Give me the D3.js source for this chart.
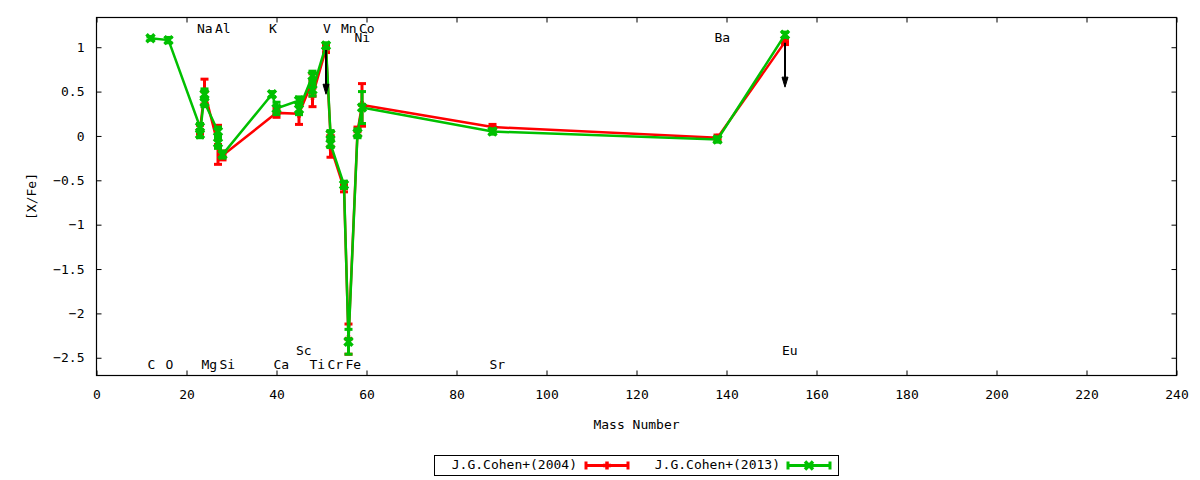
<!DOCTYPE html>
<html>
<head>
<meta charset="utf-8">
<script src="https://cdn.jsdelivr.net/npm/d3@7"></script>
<style>
  body { margin: 0; background: #fff; }
  text { font-family: "DejaVu Sans Mono", monospace; font-size: 13px; fill: #000; }
</style>
</head>
<body>
<div id="chart"></div>
<script>
// element labels: name, mass number, row (0 top, 1 top 2nd, 2 bottom, 3 bottom 2nd)
var elemNames = ['C', 'O', 'Na', 'Mg', 'Al', 'Si', 'K', 'Ca', 'Sc', 'Ti', 'V', 'Cr', 'Mn', 'Fe', 'Co', 'Ni', 'Sr', 'Ba', 'Eu'];
var elemMass  = [12, 16, 23, 24, 27, 28, 39, 40, 45, 48, 51, 52, 55, 56, 59, 58, 88, 138, 153];
var elemRow   = [2, 2, 0, 2, 0, 2, 0, 2, 3, 2, 0, 2, 0, 2, 0, 1, 2, 1, 3];
var rowY      = [1.2, 1.095, -2.585, -2.43];

// J.G.Cohen+(2004)
var mass2004 = [23, 24, 27, 28, 40, 45, 48, 48, 51, 52, 52, 55, 56, 58, 59, 88, 138, 153];
var val2004  = [0.07, 0.50, -0.10, -0.22, 0.26, 0.25, 0.62, 0.45, 0.98, 0.00, -0.12, -0.59, -2.29, 0.05, 0.35, 0.10, -0.02, 1.06];
var err2004  = [0.05, 0.14, 0.22, 0.05, 0.05, 0.12, 0.08, 0.12, 0.04, 0.05, 0.12, 0.04, 0.17, 0.05, 0.24, 0.03, 0.03, 0.03];

// J.G.Cohen+(2013)
var mass2013 = [12, 16, 23, 23, 24, 24, 27, 27, 28, 39, 40, 45, 45, 48, 48, 51, 52, 52, 55, 56, 58, 59, 88, 138, 153];
var val2013  = [1.10, 1.08, 0.10, 0.02, 0.47, 0.38, 0.05, -0.08, -0.21, 0.47, 0.31, 0.40, 0.30, 0.68, 0.52, 1.02, 0.02, -0.09, -0.55, -2.32, 0.03, 0.32, 0.05, -0.04, 1.14];
var err2013  = [0.02, 0.03, 0.04, 0.04, 0.06, 0.05, 0.05, 0.06, 0.04, 0.03, 0.07, 0.04, 0.06, 0.05, 0.07, 0.03, 0.04, 0.04, 0.04, 0.14, 0.05, 0.18, 0.03, 0.03, 0.03];

// upper limits drawn as black arrows
var limitMass = [51, 153];
var limitVal  = [0.97, 1.05];
var limitLen  = 0.5;

var xTicks = d3.range(0, 241, 20);
var yTicks = [1, 0.5, 0, -0.5, -1, -1.5, -2, -2.5];

var W = 1200, H = 480;
// plot box (don't call it "top", window.top is read only)
var pL = 96.5, pR = 1176.5, pT = 17.5, pB = 375.5;

var svg = d3.select("#chart").append("svg")
  .attr("width", W).attr("height", H);

var x = d3.scaleLinear().domain([0, 240]).range([pL, pR]);
var y = d3.scaleLinear().domain([-2.7, 1.335]).range([pB, pT]);

// ticks on all four sides, pointing in
var tl = 5;
svg.append("g").attr("transform", "translate(0," + pB + ")")
  .call(d3.axisBottom(x).tickValues(xTicks).tickSize(-tl).tickPadding(14))
  .call(function(g){ g.select(".domain").remove(); });
svg.append("g").attr("transform", "translate(0," + pT + ")")
  .call(d3.axisTop(x).tickValues(xTicks).tickSize(-tl).tickFormat(""))
  .call(function(g){ g.select(".domain").remove(); });
svg.append("g").attr("transform", "translate(" + pL + ",0)")
  .call(d3.axisLeft(y).tickValues(yTicks).tickSize(-tl).tickPadding(12).tickFormat(d3.format("")))
  .call(function(g){ g.select(".domain").remove(); });
svg.append("g").attr("transform", "translate(" + pR + ",0)")
  .call(d3.axisRight(y).tickValues(yTicks).tickSize(-tl).tickFormat(""))
  .call(function(g){ g.select(".domain").remove(); });

svg.selectAll(".tick line").attr("stroke", "#000").attr("stroke-width", 1);
svg.selectAll(".tick text").style("font-family", "DejaVu Sans Mono").style("font-size", "13px");

// frame
svg.append("rect")
  .attr("x", pL).attr("y", pT)
  .attr("width", pR - pL).attr("height", pB - pT)
  .attr("fill", "none").attr("stroke", "#000").attr("stroke-width", 1.2);

// axis titles
svg.append("text")
  .attr("x", (pL + pR) / 2).attr("y", 425)
  .attr("text-anchor", "middle").attr("dominant-baseline", "middle")
  .text("Mass Number");
svg.append("text")
  .attr("transform", "translate(32," + ((pT + pB) / 2) + ") rotate(-90)")
  .attr("text-anchor", "middle").attr("dominant-baseline", "middle")
  .text("[X/Fe]");

// element labels
elemNames.forEach(function(n, i){
  svg.append("text")
    .attr("x", x(elemMass[i]) - 3)
    .attr("y", y(rowY[elemRow[i]]))
    .attr("dominant-baseline", "middle")
    .text(n);
});

var line = d3.line().x(function(d){ return x(d.m); }).y(function(d){ return y(d.v); });

var cap = 4;
var draw_series = function(ms, vs, es, color, marker){
  var pts = ms.map(function(m, i){ return {m: m, v: vs[i], e: es[i]}; });
  var g = svg.append("g");
  g.append("path").datum(pts)
    .attr("d", line).attr("fill", "none")
    .attr("stroke", color).attr("stroke-width", 2.5);
  pts.forEach(function(d){
    var px = x(d.m), y1 = y(d.v + d.e), y2 = y(d.v - d.e);
    g.append("line").attr("x1", px).attr("x2", px).attr("y1", y1).attr("y2", y2)
      .attr("stroke", color).attr("stroke-width", 3);
    [y1, y2].forEach(function(yy){
      g.append("line").attr("x1", px - cap).attr("x2", px + cap).attr("y1", yy).attr("y2", yy)
        .attr("stroke", color).attr("stroke-width", 3);
    });
    marker(g, px, y(d.v), color);
  });
};

var plus_mark = function(g, px, py, color){
  g.append("path")
    .attr("d", "M" + (px - 4) + "," + py + "H" + (px + 4) + "M" + px + "," + (py - 4) + "V" + (py + 4))
    .attr("stroke", color).attr("stroke-width", 3.5).attr("fill", "none");
};
var x_mark = function(g, px, py, color){
  g.append("path")
    .attr("d", "M" + (px - 4) + "," + (py - 4) + "L" + (px + 4) + "," + (py + 4) +
               "M" + (px - 4) + "," + (py + 4) + "L" + (px + 4) + "," + (py - 4))
    .attr("stroke", color).attr("stroke-width", 3.5).attr("fill", "none");
};

var red = "#ff0000", green = "#00c000";
draw_series(mass2004, val2004, err2004, red, plus_mark);
draw_series(mass2013, val2013, err2013, green, x_mark);

// upper limit arrows
limitMass.forEach(function(m, i){
  var px = x(m), y1 = y(limitVal[i]), y2 = y(limitVal[i] - limitLen);
  svg.append("line").attr("x1", px).attr("x2", px).attr("y1", y1).attr("y2", y2 - 6)
    .attr("stroke", "#000").attr("stroke-width", 2);
  svg.append("path")
    .attr("d", "M" + (px - 3) + "," + (y2 - 10) + "L" + (px + 3) + "," + (y2 - 10) + "L" + px + "," + y2 + "Z")
    .attr("fill", "#000").attr("stroke", "#000").attr("stroke-width", 1);
});

// legend
var lg = svg.append("g");
lg.append("rect").attr("x", 434.5).attr("y", 455.5).attr("width", 404).attr("height", 20)
  .attr("fill", "#fff").attr("stroke", "#000").attr("stroke-width", 1);
var legendItems = [
  {name: "J.G.Cohen+(2004)", color: red, marker: plus_mark, tx: 577, x0: 586, x1: 628},
  {name: "J.G.Cohen+(2013)", color: green, marker: x_mark, tx: 780, x0: 788, x1: 830}
];
legendItems.forEach(function(it){
  var ly = 465.5;
  lg.append("text").attr("x", it.tx).attr("y", ly).attr("text-anchor", "end")
    .attr("dominant-baseline", "middle").text(it.name);
  lg.append("line").attr("x1", it.x0).attr("x2", it.x1).attr("y1", ly).attr("y2", ly)
    .attr("stroke", it.color).attr("stroke-width", 3);
  [it.x0, it.x1].forEach(function(xx){
    lg.append("line").attr("x1", xx).attr("x2", xx).attr("y1", ly - 4).attr("y2", ly + 4)
      .attr("stroke", it.color).attr("stroke-width", 3);
  });
  it.marker(lg, (it.x0 + it.x1) / 2, ly, it.color);
});
</script>
</body>
</html>
